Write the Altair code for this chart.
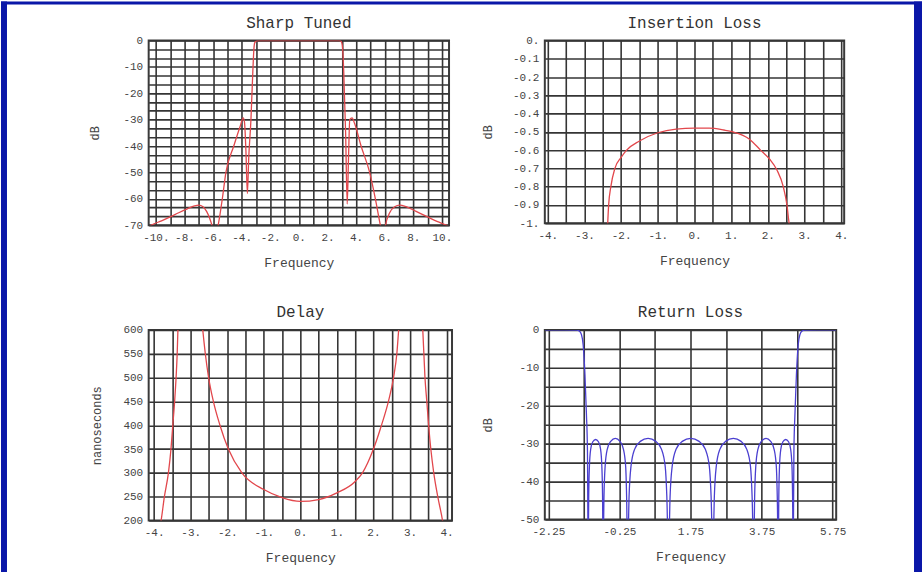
import altair as alt
import pandas as pd

# ---------------- data ----------------
ST_FREQ = [-10.5, -10.3, -9.6, -9.0, -8.4, -7.8, -7.3, -7.0, -6.7, -6.45, -6.25, -6.08,
           -5.95, -5.75, -5.64, -5.5, -5.35, -5.1, -4.55, -4.1, -3.89, -3.8, -3.7, -3.6,
           -3.5, -3.35, -3.22, -3.14, -3.08, -2.95, -2.8, 2.8, 2.92, 3.0, 3.06, 3.14,
           3.27, 3.38, 3.47, 3.56, 3.72, 3.9, 4.35, 4.95, 5.35, 5.7, 5.82, 5.97, 6.06,
           6.35, 6.7, 7.05, 7.5, 8.2, 9.0, 9.7, 10.3, 10.5]
ST_DB = [-70.8, -70.0, -68.4, -66.9, -65.3, -63.8, -62.7, -62.4, -63.0, -64.8, -67.2, -70.0,
         -73.0, -73.0, -70.0, -65.5, -60.0, -50.0, -40.0, -32.5, -29.3, -31.0, -42.0, -58.0,
         -44.0, -30.0, -12.0, -3.0, -0.8, -0.1, 0.0, 0.0, -0.1, -0.8, -3.0, -12.0,
         -35.0, -62.0, -45.0, -30.0, -29.3, -31.5, -40.0, -50.0, -60.0, -70.0, -73.0, -73.0, -70.0,
         -65.3, -63.0, -62.4, -63.0, -64.8, -66.9, -68.7, -70.0, -70.6]

IL_FREQ = [-2.37, -2.34, -2.28, -2.17, -2.0, -1.85, -1.5, -1.0, -0.5, 0.0, 0.4, 0.8,
           1.05, 1.5, 1.8, 2.05, 2.25, 2.42, 2.52, 2.58, 2.6]
IL_DB = [-1.02, -0.9, -0.8, -0.7, -0.64, -0.6, -0.55, -0.505, -0.485, -0.48, -0.48, -0.49,
         -0.5, -0.54, -0.6, -0.65, -0.71, -0.8, -0.9, -1.0, -1.02]

DL_FREQ = [-3.86, -3.81, -3.72, -3.61, -3.54, -3.49, -3.44, -3.40, -3.37, -3.35, -3.33,
           -2.72, -2.67, -2.60, -2.51, -2.38, -2.20, -1.97, -1.60, -1.0, -0.5, 0.0, 0.5,
           1.0, 1.5, 1.70, 2.00, 2.22, 2.41, 2.55, 2.64, 2.69, 2.73,
           3.33, 3.35, 3.38, 3.41, 3.46, 3.51, 3.57, 3.65, 3.76, 3.89, 3.93]
DL_NS = [180, 200, 250, 300, 350, 400, 450, 500, 550, 600, 640,
         640, 600, 550, 500, 450, 400, 350, 300, 265, 248, 240, 244,
         258, 282, 300, 350, 400, 450, 500, 550, 600, 640,
         640, 600, 550, 500, 450, 400, 350, 300, 250, 200, 180]
DL_BRANCH = ["left"] * 11 + ["middle"] * 22 + ["right"] * 11

RL_FREQ = [-2.35, -1.80, -1.45, -1.38, -1.32, -1.27, -1.22, -1.18, -1.15, -1.13,
           -1.115, -1.095, -1.06, -1.00, -0.92, -0.84, -0.78, -0.745, -0.725, -0.71,
           -0.685, -0.653, -0.593, -0.496, -0.365, -0.234, -0.137, -0.075, -0.048, -0.02,
           0.021, 0.075, 0.176, 0.337, 0.555, 0.774, 0.935, 1.038, 1.084, 1.13,
           1.175, 1.234, 1.343, 1.518, 1.755, 1.993, 2.168, 2.28, 2.33, 2.38,
           2.421, 2.475, 2.576, 2.737, 2.955, 3.174, 3.335, 3.438, 3.484, 3.53,
           3.555, 3.587, 3.647, 3.744, 3.875, 4.006, 4.103, 4.165, 4.192, 4.22,
           4.235, 4.255, 4.291, 4.35, 4.43, 4.51, 4.569, 4.606, 4.623, 4.64,
           4.66, 4.69, 4.73, 4.78, 4.83, 4.89, 4.96, 5.30, 5.85]
RL_DB = [0.0, 0.0, -0.05, -0.3, -1.2, -4.0, -12.0, -22.0, -32.0, -60.0,
         -44, -36, -31.5, -29.5, -28.9, -29.5, -31.5, -36, -44, -60,
         -44, -36, -31.5, -29.4, -28.6, -29.4, -31.5, -36, -44, -60,
         -44, -36, -31.5, -29.4, -28.6, -29.4, -31.5, -36, -44, -60,
         -44, -36, -31.5, -29.4, -28.6, -29.4, -31.5, -36, -44, -60,
         -44, -36, -31.5, -29.4, -28.6, -29.4, -31.5, -36, -44, -60,
         -44, -36, -31.5, -29.4, -28.6, -29.4, -31.5, -36, -44, -60,
         -44, -36, -31.5, -29.5, -28.9, -29.5, -31.5, -36, -44, -60,
         -32.0, -22.0, -12.0, -4.0, -1.2, -0.3, -0.05, 0.0, 0.0]

# ---------------- style ----------------
FONT = "Liberation Mono"
GRID = "#353535"
RED = "#e2474c"
BLUE = "#4a3fd0"
SLIDE = "#0a17a8"
TXT = "#444444"


def steps(start, stop, step):
    n = int(round((stop - start) / step))
    return [round(start + i * step, 4) for i in range(n + 1)]


def x_axis(values, expr):
    return alt.Axis(values=values, labelExpr=expr, title="Frequency", grid=True,
                    gridColor=GRID, gridWidth=1.6, ticks=False, domain=False,
                    labelOverlap=False, labelFlush=False, labelPadding=6,
                    labelFontSize=11, labelColor=TXT, titleFontSize=13,
                    titleFontWeight="normal", titleColor=TXT, titlePadding=14)


def y_axis(values, expr, title, title_x):
    return alt.Axis(values=values, labelExpr=expr, title=title, grid=True,
                    gridColor=GRID, gridWidth=1.6, ticks=False, domain=False,
                    labelOverlap=False, labelFlush=False, labelPadding=6,
                    labelFontSize=11, labelColor=TXT, titleFontSize=12,
                    titleFontWeight="normal", titleColor=TXT, titleX=title_x)


def panel(df, xdom, ydom, xax, yax, color, title, w, h, title_offset, extra=(), detail=None):
    enc = dict(
        x=alt.X("f:Q", scale=alt.Scale(domain=xdom, nice=False, zero=False), axis=xax),
        y=alt.Y("v:Q", scale=alt.Scale(domain=ydom, nice=False, zero=False), axis=yax),
    )
    if detail:
        enc["detail"] = alt.Detail(detail)
    line = alt.Chart(df).mark_line(color=color, strokeWidth=1.3, clip=True,
                                   interpolate="monotone").encode(**enc)
    return alt.layer(*extra, line).properties(
        width=w, height=h,
        title=alt.TitleParams(title, fontSize=16, font=FONT, fontWeight="normal",
                              color="#333333", offset=title_offset))


# slide frame (decoration) drawn from the first panel, outside its plot area
one = pd.DataFrame({"k": [0]})
frame = [
    alt.Chart(one).mark_rect(color=SLIDE).encode(
        x=alt.value(-148), x2=alt.value(-142), y=alt.value(-39), y2=alt.value(533)),
    alt.Chart(one).mark_rect(color=SLIDE).encode(
        x=alt.value(-148), x2=alt.value(775), y=alt.value(-39), y2=alt.value(-36)),
    alt.Chart(one).mark_rect(color=SLIDE).encode(
        x=alt.value(767), x2=alt.value(775), y=alt.value(-39), y2=alt.value(533)),
]

st = panel(pd.DataFrame({"f": ST_FREQ, "v": ST_DB}), [-10.5, 10.5], [-70, 0],
           x_axis(steps(-10, 10, 1), "datum.value % 2 == 0 ? datum.value + '.' : ''"),
           y_axis([round(-10 * i / 3, 4) for i in range(22)],
                  "abs(datum.value % 10) < 0.01 ? datum.value + '' : ''", "dB", -47),
           RED, "Sharp Tuned", 301, 185, -29, extra=frame)

il = panel(pd.DataFrame({"f": IL_FREQ, "v": IL_DB}), [-4.08, 4.08], [-1, 0],
           x_axis(steps(-4, 4, 0.5), "datum.value % 1 == 0 ? datum.value + '.' : ''"),
           y_axis(steps(-1, 0, 0.1),
                  "datum.value == 0 ? '0.' : (datum.value == -1 ? '-1.' : datum.value + '')",
                  "dB", -50),
           RED, "Insertion Loss", 300, 183, 4)

dl = panel(pd.DataFrame({"f": DL_FREQ, "v": DL_NS, "b": DL_BRANCH}), [-4.15, 4.15], [200, 600],
           x_axis(steps(-4, 4, 0.5), "datum.value % 1 == 0 ? datum.value + '.' : ''"),
           y_axis(steps(200, 600, 50), "datum.value + ''", "nanoseconds", -45),
           RED, "Delay", 304, 191, 4, detail="b:N")

rl = panel(pd.DataFrame({"f": RL_FREQ, "v": RL_DB}), [-2.35, 5.85], [-50, 0],
           x_axis(steps(-2.25, 5.75, 1),
                  "indexof([-2.25, -0.25, 1.75, 3.75, 5.75], datum.value) >= 0 ? datum.value + '' : ''"),
           y_axis(steps(-50, 0, 5), "datum.value % 10 == 0 ? datum.value + '' : ''", "dB", -50),
           BLUE, "Return Loss", 292, 190, 4)

chart = alt.concat(st, il, dl, rl, columns=2, spacing={"row": 105, "column": 93},
                   bounds="flush", align="each").properties(
    padding=0, background="white"
).configure(font=FONT).configure_view(stroke="#3a3a3a", strokeWidth=2, fill="white")

chart.save("out.html", embed_options={"renderer": "svg", "actions": False})
